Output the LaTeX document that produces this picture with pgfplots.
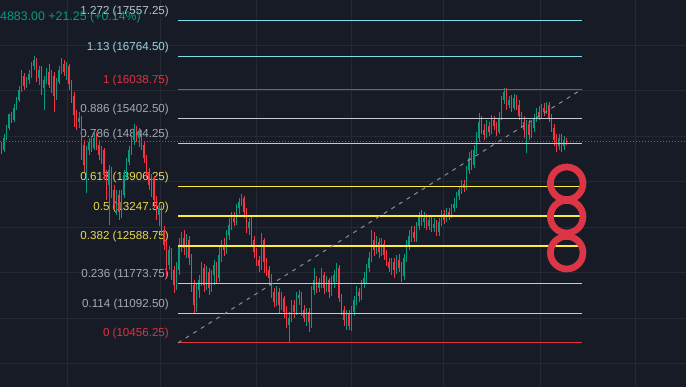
\documentclass[border=0pt]{standalone}
\usepackage{fontspec}
\setmainfont{Liberation Sans}
\usepackage{pgfplots}
\usepackage{pgfplotstable}
\pgfplotsset{compat=1.18}
\definecolor{bgc}{HTML}{171B26}
\definecolor{gridc}{HTML}{252934}
\definecolor{upc}{HTML}{089981}
\definecolor{dnc}{HTML}{F23645}
\definecolor{fibred}{HTML}{E0323F}
\definecolor{fibgray}{HTML}{C8CAD0}
\definecolor{labgray}{HTML}{A6A9B2}
\definecolor{fibyel}{HTML}{FFEB3B}
\definecolor{labyel}{HTML}{E8DA4A}
\definecolor{fibcyan}{HTML}{80DEEA}
\definecolor{labcyan}{HTML}{9AD3E0}
\definecolor{labcyan2}{HTML}{B9C3CB}
\definecolor{diagc}{HTML}{8A8D96}
\definecolor{ringc}{HTML}{DC3545}
\newcommand{\lab}{\fontsize{11.6}{13}\selectfont}

\pgfplotstableread{
o h l c
14810 14876 14612 14700
14700 15052 14656 14964
14964 15250 14920 15184
15184 15426 15140 15492
15492 15536 15294 15360
15360 15712 15316 15624
15624 15866 15580 15800
15800 16108 15756 16020
16020 16460 15976 16328
16328 16394 16020 16108
16108 16306 16064 16240
16240 16460 16152 16372
16372 16636 16284 16548
16548 16768 16460 16680
16680 16724 16196 16284
16284 16548 16130 16460
16460 16548 15910 16064
16064 16328 15580 16240
16240 16504 16152 16416
16416 16592 16064 16130
16130 16460 15954 16328
16328 16416 15536 15888
15888 16284 15800 16196
16196 16548 16152 16460
16460 16724 16372 16592
16592 16680 16328 16416
16416 16636 16240 16548
16548 16592 16020 16152
16152 16240 15734 15888
15888 15976 15206 15470
15470 15580 15140 15316
15316 15536 15184 15404
15404 15448 14480 14810
14810 14920 14216 14370
14370 14788 13754 14700
14700 14964 14590 14876
14876 15008 14656 14744
14744 15074 14700 14964
14964 15096 14700 14810
14810 14920 14480 14590
14590 14788 14392 14700
14700 14744 14040 14150
14150 14260 13600 13930
13930 14370 13050 14260
14260 14326 13644 13820
13820 13930 13380 13490
13490 13820 13270 13710
13710 13820 13160 13336
13336 13820 13204 13710
13710 14260 13644 14150
14150 14524 14040 14436
14436 14788 14370 14700
14700 15030 14590 14920
14920 15272 14810 15140
15140 15228 14876 14964
14964 15184 14766 15096
15096 15140 14700 14810
14810 14876 14414 14524
14524 14590 14084 14216
14216 14304 13820 13930
13930 14172 13666 14084
14084 14128 13424 13600
13600 13688 13160 13270
13270 13512 13028 13424
13424 13490 12808 12940
12940 13028 12500 12610
12610 12720 11906 12170
12170 12588 12060 12500
12500 12544 11840 12060
12060 12148 11554 11730
11730 12236 11620 12060
12060 12764 11950 12610
12610 12896 12456 12764
12764 12940 12390 12544
12544 12852 12324 12720
12720 12808 12170 12324
12324 12412 11576 11730
11730 11840 11092 11290
11290 11752 11136 11620
11620 11950 11444 11840
11840 12236 11708 12104
12104 12192 11576 11730
11730 12148 11620 12016
12016 12104 11510 11664
11664 12060 11576 11950
11950 12280 11730 12170
12170 12236 11774 11884
11884 12610 11796 12390
12390 12720 12236 12610
12610 12764 12368 12500
12500 12940 12412 12830
12830 13204 12720 13050
13050 13336 12940 13204
13204 13336 13028 13116
13116 13512 13050 13424
13424 13644 13292 13556
13556 13732 13468 13644
13644 13688 13204 13336
13336 13424 12874 12984
12984 13204 12830 13116
13116 13226 12566 12720
12720 12808 12324 12456
12456 12544 12148 12280
12280 12368 12016 12148
12148 12874 12060 12720
12720 12764 11994 12236
12236 12324 11928 12060
12060 12148 11730 11884
11884 11972 11444 11576
11576 11664 11246 11356
11356 11708 11268 11576
11576 11664 11114 11290
11290 11576 11180 11444
11444 11488 11004 11136
11136 11268 10784 10850
10850 11136 10476 11004
11004 11400 10916 11290
11290 11400 11004 11136
11136 11576 11070 11444
11444 11620 11290 11510
11510 11576 11048 11180
11180 11290 10916 11004
11004 11224 10828 11136
11136 11224 10696 10916
10916 11708 10784 11620
11620 12104 11510 11840
11840 11928 11554 11664
11664 11884 11576 11796
11796 12104 11664 11950
11950 12016 11532 11664
11664 11928 11576 11840
11840 11884 11444 11576
11576 11928 11488 11796
11796 12060 11664 11950
11950 12214 11796 12104
12104 12170 11356 11444
11444 11532 11070 11180
11180 11268 10828 10960
10960 11180 10740 11092
11092 11180 10740 10828
10828 11268 10718 11136
11136 11488 11048 11400
11400 11708 11290 11576
11576 11664 11356 11488
11488 11840 11400 11752
11752 12016 11664 11884
11884 12192 11774 12104
12104 12456 12016 12324
12324 12940 12236 12720
12720 12896 12368 12500
12500 12808 12412 12676
12676 12764 12324 12456
12456 12764 12368 12632
12632 12720 12280 12390
12390 12500 12148 12236
12236 12324 12016 12104
12104 12324 11950 12236
12236 12324 11884 12060
12060 12390 11972 12280
12280 12412 12016 12104
12104 12236 11796 11928
11928 12412 11840 12324
12324 12720 12236 12588
12588 12940 12500 12808
12808 13028 12676 12896
12896 13028 12676 12764
12764 13116 12676 13028
13028 13336 12940 13248
13248 13380 13028 13116
13116 13336 12984 13204
13204 13292 12940 13028
13028 13248 12940 13160
13160 13248 12896 12984
12984 13204 12896 13072
13072 13160 12808 12896
12896 13204 12808 13116
13116 13380 13028 13292
13292 13380 13072 13160
13160 13424 13116 13336
13336 13424 13160 13248
13248 13512 13204 13424
13424 13644 13336 13512
13512 13776 13424 13688
13688 13908 13600 13820
13820 14040 13732 13952
13952 14040 13776 13864
13864 14348 13820 14260
14260 14656 14172 14524
14524 14700 14260 14370
14370 14810 14304 14700
14700 15096 14612 14964
14964 15514 14876 15316
15316 15448 15052 15140
15140 15272 14920 15030
15030 15360 14964 15228
15228 15316 15008 15096
15096 15470 15052 15360
15360 15448 15140 15228
15228 15316 15008 15096
15096 15536 15052 15404
15404 15888 15360 15800
15800 16064 15712 15976
15976 16064 15580 15690
15690 15888 15624 15800
15800 15910 15536 15624
15624 15932 15580 15844
15844 15910 15580 15690
15690 15800 15360 15448
15448 15536 15184 15316
15316 15448 14964 15140
15140 15360 14634 15272
15272 15360 14920 15030
15030 15316 14964 15184
15184 15492 15096 15404
15404 15624 15316 15536
15536 15668 15360 15448
15448 15712 15404 15624
15624 15734 15448 15536
15536 15756 15492 15690
15690 15756 15316 15404
15404 15492 15096 15184
15184 15272 14788 14920
14920 15052 14656 14788
14788 15052 14700 14964
14964 15052 14656 14788
14788 15008 14700 14920
14920 14964 14810 14883
}\candles

\pgfplotsset{
  candle/.style 2 args={draw=none, mark=none, forget plot,
    error bars/.cd, y dir=both, y explicit, error mark=none,
    error bar style={line width=#2, draw=#1, solid}},
}

\begin{document}
\begin{tikzpicture}
\begin{axis}[
  name=ax,
  width=686pt, height=387pt, scale only axis,
  xmin=0, xmax=686, ymin=9486, ymax=18000,
  axis line style={draw=none},
  major tick length=0pt,
  xtick={67,160,256,351,443,540,635},
  ytick={10000,11000,12000,13000,14000,15000,16000,17000},
  xticklabel=\empty, yticklabel=\empty,
  grid=major, major grid style={draw=gridc, line width=1pt},
  axis background/.style={fill=bgc},
]
% Fibonacci labels (under the candles)
\node[anchor=base east, inner sep=0pt, yshift=6pt, text=fibred, font=\lab] at (axis cs:169,10456.25) {0 (10456.25)};
\node[anchor=base east, inner sep=0pt, yshift=6pt, text=labgray, font=\lab] at (axis cs:169,11092.5) {0.114 (11092.50)};
\node[anchor=base east, inner sep=0pt, yshift=6pt, text=labgray, font=\lab] at (axis cs:169,11773.75) {0.236 (11773.75)};
\node[anchor=base east, inner sep=0pt, yshift=6pt, text=labyel, font=\lab] at (axis cs:169,12588.75) {0.382 (12588.75)};
\node[anchor=base east, inner sep=0pt, yshift=6pt, text=labyel, font=\lab] at (axis cs:169,13247.5) {0.5 (13247.50)};
\node[anchor=base east, inner sep=0pt, yshift=6pt, text=labyel, font=\lab] at (axis cs:169,13906.25) {0.618 (13906.25)};
\node[anchor=base east, inner sep=0pt, yshift=6pt, text=labgray, font=\lab] at (axis cs:169,14844.25) {0.786 (14844.25)};
\node[anchor=base east, inner sep=0pt, yshift=6pt, text=labgray, font=\lab] at (axis cs:169,15402.5) {0.886 (15402.50)};
\node[anchor=base east, inner sep=0pt, yshift=6pt, text=fibred, font=\lab] at (axis cs:169,16038.75) {1 (16038.75)};
\node[anchor=base east, inner sep=0pt, yshift=6pt, text=labcyan, font=\lab] at (axis cs:169,16764.5) {1.13 (16764.50)};
\node[anchor=base east, inner sep=0pt, yshift=6pt, text=labcyan2, font=\lab] at (axis cs:169,17557.25) {1.272 (17557.25)};

% candles: wicks and bodies
\addplot[candle={upc}{0.9pt}]
  table[x expr=\coordindex*2.5+1.5,
        y expr={\thisrow{c}>\thisrow{o} ? (\thisrow{h}+\thisrow{l})/2 : nan},
        y error expr={(\thisrow{h}-\thisrow{l})/2}] {\candles};
\addplot[candle={upc}{1.8pt}]
  table[x expr=\coordindex*2.5+1.5,
        y expr={\thisrow{c}>\thisrow{o} ? (\thisrow{o}+\thisrow{c})/2 : nan},
        y error expr={abs(\thisrow{c}-\thisrow{o})/2}] {\candles};
\addplot[candle={dnc}{0.9pt}]
  table[x expr=\coordindex*2.5+1.5,
        y expr={\thisrow{c}<\thisrow{o} ? (\thisrow{h}+\thisrow{l})/2 : nan},
        y error expr={(\thisrow{h}-\thisrow{l})/2}] {\candles};
\addplot[candle={dnc}{1.8pt}]
  table[x expr=\coordindex*2.5+1.5,
        y expr={\thisrow{c}<\thisrow{o} ? (\thisrow{o}+\thisrow{c})/2 : nan},
        y error expr={abs(\thisrow{c}-\thisrow{o})/2}] {\candles};

% Fibonacci lines
\addplot[fibred, line width=1pt, forget plot] coordinates {(178,10456.25) (582,10456.25)};
\addplot[fibgray, line width=1pt, forget plot] coordinates {(178,11092.5) (582,11092.5)};
\addplot[fibgray, line width=1pt, forget plot] coordinates {(178,11773.75) (582,11773.75)};
\addplot[fibyel, line width=1.1pt, forget plot] coordinates {(178,12588.75) (582,12588.75)};
\addplot[fibyel, line width=1.1pt, forget plot] coordinates {(178,13247.5) (582,13247.5)};
\addplot[fibyel, line width=1.1pt, forget plot] coordinates {(178,13906.25) (582,13906.25)};
\addplot[fibgray, line width=1pt, forget plot] coordinates {(178,14844.25) (582,14844.25)};
\addplot[fibgray, line width=1pt, forget plot] coordinates {(178,15402.5) (582,15402.5)};
\addplot[fibred, line width=1pt, forget plot] coordinates {(178,16038.75) (582,16038.75)};
\addplot[fibcyan, line width=1pt, forget plot] coordinates {(178,16764.5) (582,16764.5)};
\addplot[fibcyan, line width=1pt, forget plot] coordinates {(178,17557.25) (582,17557.25)};
% trend line
\addplot[diagc, line width=1pt, dash pattern=on 4pt off 5pt, forget plot] coordinates {(178,10456.25) (582,16038.75)};
% last price line
\addplot[upc, line width=1pt, dash pattern=on 1pt off 2pt, forget plot] coordinates {(0,14883) (686,14883)};
% red rings
\addplot[only marks, mark=o, mark size=16.3pt, mark options={line width=6.7pt, draw=ringc}, forget plot] coordinates {(566.7,13967) (566.7,13233) (566.7,12441)};
% header text
\node[anchor=base west, inner sep=0pt, text=upc, font=\fontsize{12.4}{14}\selectfont] at (axis cs:-6.9,17538) {14883.00 +21.25 (+0.14\%)};
\end{axis}
\pgfresetboundingbox
\path[use as bounding box] (ax.south west) rectangle (ax.north east);
\end{tikzpicture}
\end{document}
